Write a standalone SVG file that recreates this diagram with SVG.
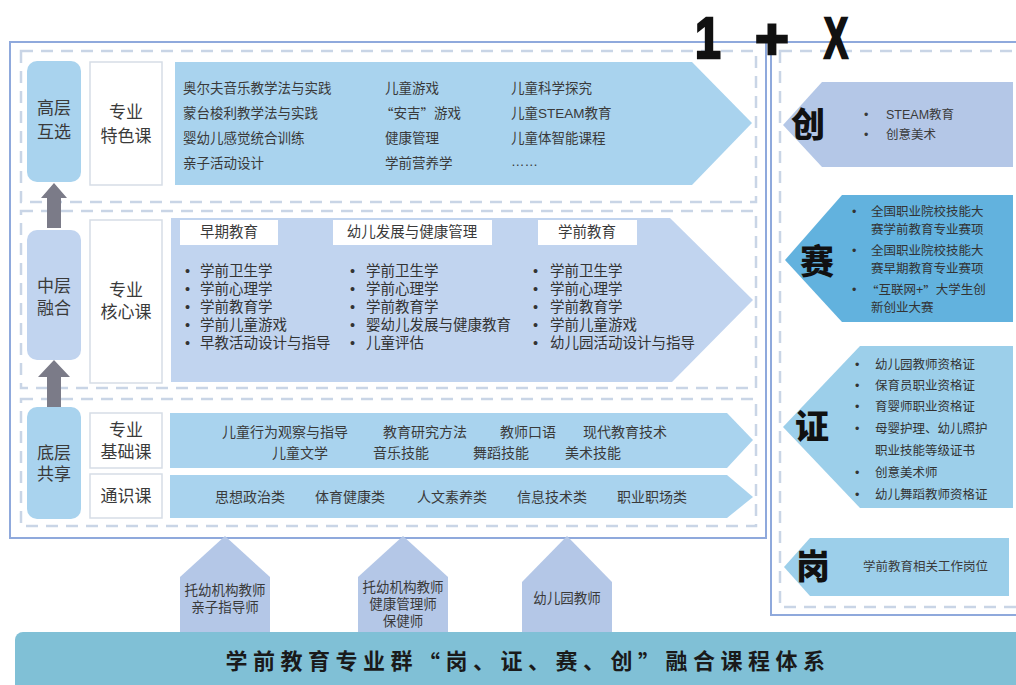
<svg xmlns="http://www.w3.org/2000/svg" width="1016" height="685" viewBox="0 0 1016 685">
<style>
text{font-family:"Liberation Sans","Noto Sans CJK SC",sans-serif;fill:#333;dominant-baseline:central}
.q{font-family:"Noto Sans CJK SC","Liberation Sans",sans-serif}
.frame{fill:none;stroke:#8fa9dc;stroke-width:2}
.dash{fill:none;stroke:#c9d5e6;stroke-width:2.5;stroke-dasharray:12 8}
.pillA{fill:#a9d3ee}
.pillB{fill:#c1d4ef}
.lbl{fill:#fff;stroke:#d6dde6;stroke-width:1.5}
.lt{font-size:17px;text-anchor:middle;fill:#3a3a3a}
.c{font-size:13.5px;fill:#3a3a3a}
.b{font-size:14.5px;fill:#3a3a3a}
.m{font-size:14px;fill:#3a3a3a}
.r{font-size:12.5px;fill:#3a3a3a}
.big{font-size:34px;font-weight:900;fill:#111;text-anchor:middle}
.ga{fill:#7b7b88}
.house{fill:#b4c7e7}
.hx{font-size:13.5px;text-anchor:middle;fill:#3a3a3a}
.one{font-family:"Liberation Sans",sans-serif;font-size:58px;font-weight:700;fill:#111;stroke:#111;stroke-width:2.5;text-anchor:middle}
</style>
<rect width="1016" height="685" fill="#fff"/>

<!-- frames -->
<g id="left-frame">
<rect class="frame" x="10" y="42" width="756" height="496"/>
<rect class="dash" x="21" y="51" width="735" height="151"/>
<rect class="dash" x="21" y="211" width="735" height="177"/>
<rect class="dash" x="21" y="399" width="735" height="127"/>
</g>
<g id="right-frame">
<rect class="frame" x="771" y="42" width="260" height="573"/>
<rect class="dash" x="780" y="51" width="250" height="556"/>
</g>

<!-- connectors -->
<g id="connectors">
<polygon class="ga" points="54,183 67,198 61,198 61,228 47,228 47,198 41,198"/>
<polygon class="ga" points="54,360 70,377 61,377 61,408 47,408 47,377 38,377"/>
</g>

<!-- top layer -->
<g id="node-high">
<rect class="pillA" x="27" y="61" width="54" height="121" rx="10"/>
<text class="lt" x="54" y="108">高层</text>
<text class="lt" x="54" y="132">互选</text>
</g>
<g id="node-tese">
<rect class="lbl" x="90" y="62" width="72" height="123"/>
<text class="lt" x="126" y="112">专业</text>
<text class="lt" x="126" y="136">特色课</text>
</g>
<g id="node-tese-list">
<polygon class="pillA" points="175,62 692,62 752,123 692,185 175,185"/>
<text class="c" x="183" y="88">奥尔夫音乐教学法与实践</text>
<text class="c" x="183" y="113">蒙台梭利教学法与实践</text>
<text class="c" x="183" y="138">婴幼儿感觉统合训练</text>
<text class="c" x="183" y="163">亲子活动设计</text>
<text class="c" x="385" y="88">儿童游戏</text>
<text class="c" x="380" y="113"><tspan class="q">“</tspan>安吉<tspan class="q">”</tspan>游戏</text>
<text class="c" x="385" y="138">健康管理</text>
<text class="c" x="385" y="163">学前营养学</text>
<text class="c" x="511" y="88">儿童科学探究</text>
<text class="c" x="511" y="113">儿童STEAM教育</text>
<text class="c" x="511" y="138">儿童体智能课程</text>
<text class="c" x="511" y="161">……</text>
</g>

<!-- middle layer -->
<g id="node-mid">
<rect class="pillB" x="27" y="230" width="54" height="130" rx="10"/>
<text class="lt" x="54" y="286">中层</text>
<text class="lt" x="54" y="308">融合</text>
</g>
<g id="node-hexin">
<rect class="lbl" x="90" y="220" width="72" height="163"/>
<text class="lt" x="126" y="290">专业</text>
<text class="lt" x="126" y="312">核心课</text>
</g>
<g id="node-hexin-list">
<polygon class="pillB" points="171,218 670,218 753,300 672,382 171,382"/>
<rect x="180" y="220" width="98" height="25" fill="#fff"/>
<rect x="333" y="220" width="159" height="25" fill="#fff"/>
<rect x="538" y="220" width="99" height="25" fill="#fff"/>
<text class="b" x="229" y="232" text-anchor="middle">早期教育</text>
<text class="b" x="412" y="232" text-anchor="middle">幼儿发展与健康管理</text>
<text class="b" x="587" y="232" text-anchor="middle">学前教育</text>
<g class="b">
<text x="185" y="271">•</text><text x="200" y="271">学前卫生学</text>
<text x="185" y="289">•</text><text x="200" y="289">学前心理学</text>
<text x="185" y="307">•</text><text x="200" y="307">学前教育学</text>
<text x="185" y="325">•</text><text x="200" y="325">学前儿童游戏</text>
<text x="185" y="343">•</text><text x="200" y="343">早教活动设计与指导</text>
<text x="350" y="271">•</text><text x="366" y="271">学前卫生学</text>
<text x="350" y="289">•</text><text x="366" y="289">学前心理学</text>
<text x="350" y="307">•</text><text x="366" y="307">学前教育学</text>
<text x="350" y="325">•</text><text x="366" y="325">婴幼儿发展与健康教育</text>
<text x="350" y="343">•</text><text x="366" y="343">儿童评估</text>
<text x="533" y="271">•</text><text x="550" y="271">学前卫生学</text>
<text x="533" y="289">•</text><text x="550" y="289">学前心理学</text>
<text x="533" y="307">•</text><text x="550" y="307">学前教育学</text>
<text x="533" y="325">•</text><text x="550" y="325">学前儿童游戏</text>
<text x="533" y="343">•</text><text x="550" y="343">幼儿园活动设计与指导</text>
</g>
</g>

<!-- bottom layer -->
<g id="node-low">
<rect class="pillA" x="27" y="407" width="54" height="112" rx="10"/>
<text class="lt" x="54" y="453">底层</text>
<text class="lt" x="54" y="474">共享</text>
</g>
<g id="node-jichu">
<rect class="lbl" x="90" y="413" width="72" height="55"/>
<text class="lt" x="126" y="430">专业</text>
<text class="lt" x="126" y="452">基础课</text>
</g>
<g id="node-jichu-list">
<polygon class="pillA" points="170,413 727,413 753,440 727,468 170,468"/>
<text class="m" x="222" y="432">儿童行为观察与指导</text>
<text class="m" x="383" y="432">教育研究方法</text>
<text class="m" x="500" y="432">教师口语</text>
<text class="m" x="583" y="432">现代教育技术</text>
<text class="m" x="272" y="453">儿童文学</text>
<text class="m" x="373" y="453">音乐技能</text>
<text class="m" x="473" y="453">舞蹈技能</text>
<text class="m" x="565" y="453">美术技能</text>
</g>
<g id="node-tongshi">
<rect class="lbl" x="90" y="474" width="72" height="44"/>
<text class="lt" x="126" y="496">通识课</text>
</g>
<g id="node-tongshi-list">
<polygon class="pillA" points="170,475 727,475 753,497 727,518 170,518"/>
<text class="m" x="215" y="497">思想政治类</text>
<text class="m" x="315" y="497">体育健康类</text>
<text class="m" x="417" y="497">人文素养类</text>
<text class="m" x="517" y="497">信息技术类</text>
<text class="m" x="617" y="497">职业职场类</text>
</g>

<!-- houses -->
<g id="node-job1">
<polygon class="house" points="180,634 180,577 225,536 270,577 270,634"/>
<text class="hx" x="225" y="590">托幼机构教师</text>
<text class="hx" x="225" y="607">亲子指导师</text>
</g>
<g id="node-job2">
<polygon class="house" points="358,634 358,577 403,536 448,577 448,634"/>
<text class="hx" x="403" y="587">托幼机构教师</text>
<text class="hx" x="403" y="604">健康管理师</text>
<text class="hx" x="403" y="621">保健师</text>
</g>
<g id="node-job3">
<polygon class="house" points="522,634 522,582 567,536 612,582 612,634"/>
<text class="hx" x="567" y="598">幼儿园教师</text>
</g>

<!-- banner -->
<g id="node-banner">
<rect x="15" y="632" width="1010" height="62" rx="8" fill="#80c0d6"/>
<text x="528" y="661" text-anchor="middle" style="font-size:22px;font-weight:700;letter-spacing:5.5px;fill:#1a1a1a">学前教育专业群<tspan class="q">“</tspan>岗、证、赛、创<tspan class="q">”</tspan>融合课程体系</text>
</g>

<!-- right side -->
<g id="node-chuang">
<polygon points="783,125 822,82 1013,82 1013,167 822,167" fill="#b4c7e7"/>
<text class="big" x="808" y="125">创</text>
<text class="r" x="864" y="115">•</text><text class="r" x="886" y="115">STEAM教育</text>
<text class="r" x="864" y="135">•</text><text class="r" x="886" y="135">创意美术</text>
</g>
<g id="node-sai">
<polygon points="785,260 842,195 1013,195 1013,322 842,322" fill="#62b2de"/>
<text class="big" x="817" y="262">赛</text>
<g class="r">
<text x="852" y="212">•</text><text x="871" y="212">全国职业院校技能大</text>
<text x="871" y="230">赛学前教育专业赛项</text>
<text x="852" y="251">•</text><text x="871" y="251">全国职业院校技能大</text>
<text x="871" y="269">赛早期教育专业赛项</text>
<text x="852" y="290">•</text><text x="866" y="290"><tspan class="q">“</tspan>互联网+<tspan class="q">”</tspan>大学生创</text>
<text x="871" y="308">新创业大赛</text>
</g>
</g>
<g id="node-zheng">
<polygon points="783,427 860,346 1013,346 1013,508 860,508" fill="#9ccfea"/>
<text class="big" x="812" y="427">证</text>
<g class="r">
<text x="855" y="365">•</text><text x="875" y="365">幼儿园教师资格证</text>
<text x="855" y="386">•</text><text x="875" y="386">保育员职业资格证</text>
<text x="855" y="407">•</text><text x="875" y="407">育婴师职业资格证</text>
<text x="855" y="429">•</text><text x="875" y="429">母婴护理、幼儿照护</text>
<text x="875" y="451">职业技能等级证书</text>
<text x="855" y="473">•</text><text x="875" y="473">创意美术师</text>
<text x="855" y="495">•</text><text x="875" y="495">幼儿舞蹈教师资格证</text>
</g>
</g>
<g id="node-gang">
<polygon points="784,567 810,538 1009,538 1009,596 810,596" fill="#9ccfea"/>
<text class="big" x="813" y="567">岗</text>
<text class="r" x="863" y="567">学前教育相关工作岗位</text>
</g>

<!-- 1 + X -->
<g id="title-1x">
<text class="one" x="708" y="38" transform="translate(708,0) scale(0.8,1) translate(-708,0)">1</text>
<text class="one" x="772" y="38">+</text>
<text class="one" x="836" y="38" transform="translate(836,0) scale(0.62,1) translate(-836,0)">X</text>
</g>
</svg>
